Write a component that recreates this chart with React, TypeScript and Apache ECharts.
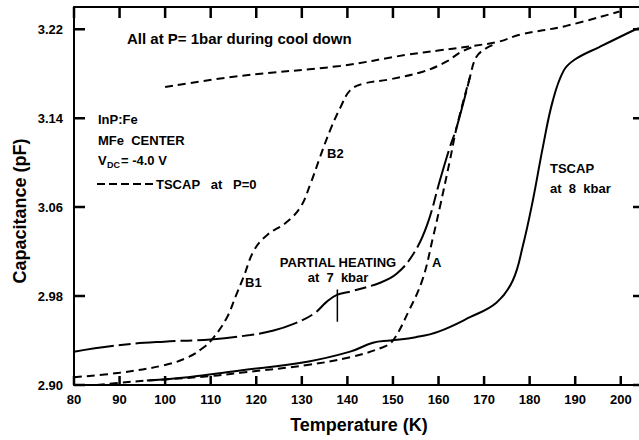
import React, { useEffect, useRef } from "react";
import * as echarts from "echarts";

// Temperature (K) / capacitance (pF) pairs for each trace
const bTemp = [80, 90, 100, 105, 108.5, 110.7, 113.6, 115.5, 117.2, 119.5, 122.4, 126.5, 129.7, 131.9, 134.0, 136.2, 138.4, 140.6, 143.5, 149.4, 156.7, 161.8, 164.7, 167.5];
const bCap = [2.907, 2.911, 2.918, 2.925, 2.934, 2.943, 2.961, 2.98, 2.997, 3.021, 3.035, 3.046, 3.06, 3.081, 3.105, 3.129, 3.149, 3.165, 3.171, 3.175, 3.182, 3.191, 3.199, 3.204];

const upperTemp = [100, 116.5, 138.4, 153, 160.3, 167.6, 173.4, 177.8, 188, 199.7];
const upperCap = [3.168, 3.178, 3.187, 3.197, 3.201, 3.205, 3.209, 3.215, 3.223, 3.236];

const aTemp = [85, 90, 96, 100, 110, 116.5, 131.2, 140.6, 147.8, 150, 153.4, 156.5, 158.8, 160.3, 162.5, 164.0, 166.9, 168.3, 170.5, 172.7];
const aCap = [2.9, 2.902, 2.904, 2.905, 2.908, 2.911, 2.918, 2.925, 2.934, 2.94, 2.966, 2.995, 3.033, 3.06, 3.102, 3.132, 3.177, 3.195, 3.203, 3.207];

const kbar8Temp = [96, 105, 116.5, 131.2, 140.6, 145.6, 149.4, 155, 160, 166.9, 172.7, 176.3, 178.5, 180.7, 182.9, 185.1, 187.5, 190, 195.3, 203.3, 204];
const kbar8Cap = [2.904, 2.907, 2.913, 2.921, 2.93, 2.938, 2.94, 2.943, 2.948, 2.961, 2.974, 2.994, 3.025, 3.066, 3.114, 3.156, 3.183, 3.193, 3.204, 3.22, 3.221];

const partialTemp = [80, 90.3, 99.8, 110, 118.7, 123.8, 128.2, 132.6, 135.5, 137.7, 140.6, 147.2, 150.8, 154.5, 157.5, 160.3, 162.5, 164.0, 166.9];
const partialCap = [2.93, 2.936, 2.939, 2.941, 2.945, 2.949, 2.955, 2.964, 2.975, 2.981, 2.984, 2.992, 3.0, 3.018, 3.044, 3.084, 3.114, 3.132, 3.177];

const heatMarkTemp = [137.8, 137.8];
const heatMarkCap = [2.957, 2.986];

const xTicks = [80, 90, 100, 110, 120, 130, 140, 150, 160, 170, 180, 190, 200];
const yTicks = [2.9, 2.98, 3.06, 3.14, 3.22];

const X_MIN = 80;
const X_MAX = 204;
const Y_MIN = 2.9;
const Y_MAX = 3.24;

// plot frame in pixels
const W = 639;
const H = 440;
const GRID = { left: 74, right: 0, top: 7, bottom: 55 };

const zip = (xs: number[], ys: number[]) => xs.map((x, i) => [x, ys[i]]);

const FONT = "'Liberation Sans', Arial, sans-serif";
const INK = "#000";

const label = (text: string, x: number, y: number, size = 13, align = "left") => ({
  type: "text",
  x,
  y,
  style: {
    text,
    fontSize: size,
    fontWeight: "bold",
    fontFamily: FONT,
    fill: INK,
    align,
    verticalAlign: "middle",
  },
});

const curve = (data: any[], type: any, width = 2) => ({
  type: "line",
  data,
  showSymbol: false,
  symbol: "none",
  smooth: 0.4,
  lineStyle: { color: INK, width, type },
  silent: true,
});

// Inward frame ticks as short broken segments (tick length given in pixels)
const frameTicks = () => {
  const kPerPx = (X_MAX - X_MIN) / (W - GRID.left - GRID.right);
  const cPerPx = (Y_MAX - Y_MIN) / (H - GRID.top - GRID.bottom);
  const pts: any[] = [];
  xTicks.forEach((v) => {
    pts.push([v, Y_MIN], [v, Y_MIN + 9 * cPerPx], [v, "-"]);
    pts.push([v, Y_MAX], [v, Y_MAX - 11 * cPerPx], [v, "-"]);
  });
  yTicks.forEach((v) => {
    pts.push([X_MIN, v], [X_MIN + 11 * kPerPx, v], ["-", v]);
    pts.push([X_MAX, v], [X_MAX - 6 * kPerPx, v], ["-", v]);
  });
  return {
    type: "line",
    data: pts,
    showSymbol: false,
    symbol: "none",
    connectNulls: false,
    clip: false,
    lineStyle: { color: INK, width: 2.5 },
    silent: true,
  };
};

export default function App() {
  const ref = useRef<HTMLDivElement>(null);

  useEffect(() => {
    if (!ref.current) return;
    const chart = echarts.init(ref.current, undefined, { renderer: "svg" });

    const axisLine = { show: true, onZero: false, lineStyle: { color: INK, width: 2 } };
    const labelStyle = {
      fontSize: 13,
      fontWeight: "bold",
      fontFamily: FONT,
      color: INK,
    };

    chart.setOption({
      animation: false,
      backgroundColor: "#fff",
      grid: { ...GRID, containLabel: false },
      xAxis: [
        {
          type: "value",
          min: X_MIN,
          max: X_MAX,
          interval: 10,
          position: "bottom",
          axisLine,
          axisTick: { show: false },
          axisLabel: { ...labelStyle, showMaxLabel: false, margin: 8 },
          splitLine: { show: false },
        },
        {
          type: "value",
          min: X_MIN,
          max: X_MAX,
          interval: 10,
          position: "top",
          axisLine,
          axisTick: { show: false },
          axisLabel: { show: false },
          splitLine: { show: false },
        },
      ],
      yAxis: [
        {
          type: "value",
          min: Y_MIN,
          max: Y_MAX,
          position: "left",
          axisLine,
          axisTick: { show: false },
          axisLabel: {
            ...labelStyle,
            customValues: yTicks,
            formatter: (v: number) => v.toFixed(2),
            margin: 11,
          },
          splitLine: { show: false },
        },
      ],
      series: [
        frameTicks(),
        curve(zip(upperTemp, upperCap), [8, 5]),
        curve(zip(bTemp, bCap), [8, 5]),
        curve(zip(aTemp, aCap), [8, 5]),
        curve(zip(partialTemp, partialCap), [40, 5, 12, 5]),
        curve(zip(kbar8Temp, kbar8Cap), "solid"),
        { ...curve(zip(heatMarkTemp, heatMarkCap), "solid", 1.5), smooth: false },
      ],
      graphic: [
        label("All at P= 1bar during cool down", 127, 38, 15),
        label("InP:Fe", 98, 119),
        label("MFe  CENTER", 98, 140),
        label("V", 98, 160),
        label("DC", 107, 165, 9),
        label("= -4.0 V", 121, 160),
        {
          type: "line",
          shape: { x1: 97, y1: 184, x2: 153, y2: 184 },
          style: { stroke: INK, lineWidth: 2, lineDash: [8, 4] },
        },
        label("TSCAP   at   P=0", 156, 184),
        label("B2", 327, 153),
        label("B1", 245, 282),
        label("PARTIAL HEATING", 338, 262, 13, "center"),
        label("at  7  kbar", 338, 277, 13, "center"),
        label("A", 432, 262),
        label("TSCAP", 550, 168),
        label("at  8  kbar", 550, 188),
        {
          type: "text",
          x: 20,
          y: 211,
          rotation: Math.PI / 2,
          style: {
            text: "Capacitance (pF)",
            fontSize: 18,
            fontWeight: "bold",
            fontFamily: FONT,
            fill: INK,
            align: "center",
            verticalAlign: "middle",
          },
        },
        label("Temperature (K)", 359, 425, 18, "center"),
      ],
    });

    return () => chart.dispose();
  }, []);

  return (
    <div
      ref={ref}
      style={{ position: "fixed", left: 0, top: 0, width: W, height: H, background: "#fff" }}
    />
  );
}
